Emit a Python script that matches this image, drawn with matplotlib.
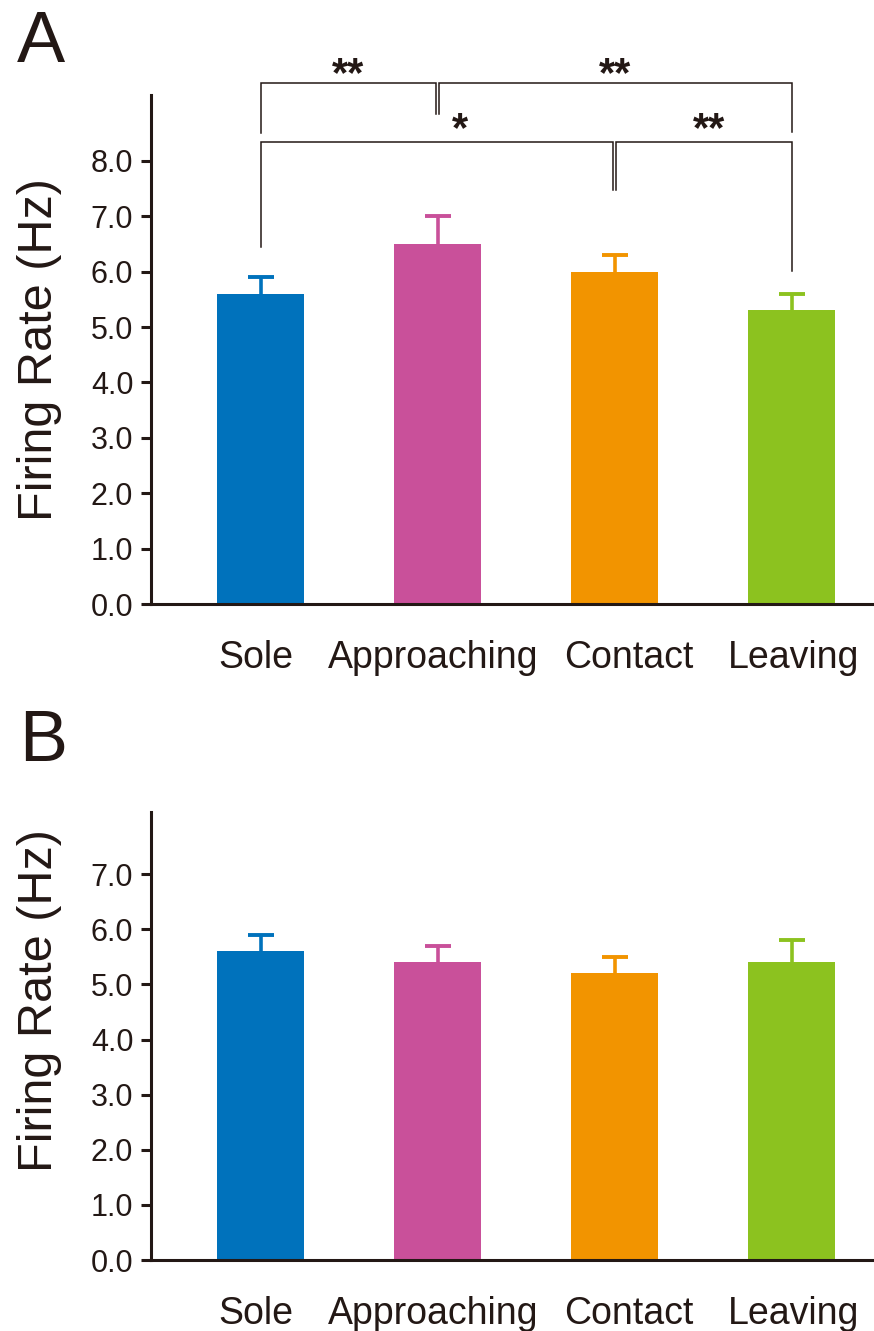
import matplotlib.pyplot as plt

plt.rcParams['font.family'] = ['Liberation Sans', 'DejaVu Sans']
ink = '#231815'

# %%
categories = ['Sole', 'Approaching', 'Contact', 'Leaving']
bar_colors = ['#0072BC', '#C9509A', '#F29400', '#8CC21F']

rate_a = [5.6, 6.5, 6.0, 5.3]
err_a = [0.3, 0.5, 0.3, 0.3]
rate_b = [5.6, 5.4, 5.2, 5.4]
err_b = [0.3, 0.3, 0.3, 0.4]

# panel A comparisons: (left bar, right bar, label)
sig_upper = [(0, 1, '**'), (1, 3, '**')]
sig_lower = [(0, 2, '*'), (2, 3, '**')]


# %%
def draw_bars(ax, rates, errs, ymax, ticks):
    x = range(len(categories))
    ax.bar(x, rates, width=0.49, color=bar_colors, zorder=1)
    for i in x:
        _, caps, _ = ax.errorbar(i, rates[i], yerr=[[0], [errs[i]]], fmt='none',
                                 ecolor=bar_colors[i], elinewidth=2.6, capsize=9.7,
                                 capthick=2.8, zorder=2)
        # only the upper cap is wanted
        for c in caps:
            if c.get_ydata()[0] <= rates[i]:
                c.set_visible(False)
    ax.set_xlim(-0.619, 3.466)
    ax.set_ylim(0, ymax)
    ax.set_xticks(list(x))
    ax.set_xticklabels([])
    # category names, nudged by hand as in the original
    for i, dx in zip(x, [-3.6, -3.2, 10.4, 1.4]):
        ax.annotate(categories[i], xy=(i, 0), xycoords=('data', 'axes fraction'),
                    xytext=(dx, -26), textcoords='offset points',
                    ha='center', va='top', fontsize=27, color=ink)
    ax.set_yticks(ticks)
    ax.set_yticklabels(['%.1f' % t for t in ticks], fontsize=22, color=ink)
    ax.tick_params(axis='x', length=0)
    ax.tick_params(axis='y', length=7.2, width=2.2, color=ink, pad=5.5)
    for s in ['top', 'right']:
        ax.spines[s].set_visible(False)
    for s in ['left', 'bottom']:
        ax.spines[s].set_linewidth(2.2)
        ax.spines[s].set_color(ink)
        ax.spines[s].set_zorder(3)
    ax.set_ylabel('Firing Rate (Hz)', fontsize=35, color=ink)


def bracket(ax, x1, x2, y, drop1, drop2, label, text_y, text_dx=0.0):
    ax.plot([x1, x1, x2, x2], [drop1, y, y, drop2], color=ink, lw=1.1,
            clip_on=False, solid_joinstyle='miter')
    ax.text((x1 + x2) / 2 + text_dx, text_y, label, ha='center', va='baseline',
            fontsize=30, fontweight='bold', color=ink, clip_on=False)


fig = plt.figure(figsize=(8.74, 13.31), dpi=100)
ax_a = fig.add_axes([151 / 874, 727 / 1331, 723 / 874, 509 / 1331])
ax_b = fig.add_axes([151 / 874, 71 / 1331, 723 / 874, 448 / 1331])

draw_bars(ax_a, rate_a, err_a, 9.19, [0, 1, 2, 3, 4, 5, 6, 7, 8])
draw_bars(ax_b, rate_b, err_b, 8.13, [0, 1, 2, 3, 4, 5, 6, 7])
ax_a.yaxis.set_label_coords(-0.123, 0.5)
ax_b.yaxis.set_label_coords(-0.123, 0.58)

# %% significance brackets
gap = 0.009
a, b, lab = sig_upper[0]
bracket(ax_a, a, b - gap, 9.40, 8.50, 8.84, lab, 9.36)
a, b, lab = sig_upper[1]
bracket(ax_a, a + gap, b, 9.40, 8.84, 8.52, lab, 9.36)
a, b, lab = sig_lower[0]
bracket(ax_a, a, b - gap, 8.34, 6.44, 7.47, lab, 8.35, text_dx=0.13)
a, b, lab = sig_lower[1]
bracket(ax_a, a + gap, b, 8.34, 7.47, 6.01, lab, 8.35, text_dx=0.03)

fig.text(17 / 874, 1 - 62 / 1331, 'A', fontsize=52, color=ink, va='baseline')
fig.text(19 / 874, 1 - 761 / 1331, 'B', fontsize=52, color=ink, va='baseline')

plt.savefig('out.png', dpi=100)
plt.close()
